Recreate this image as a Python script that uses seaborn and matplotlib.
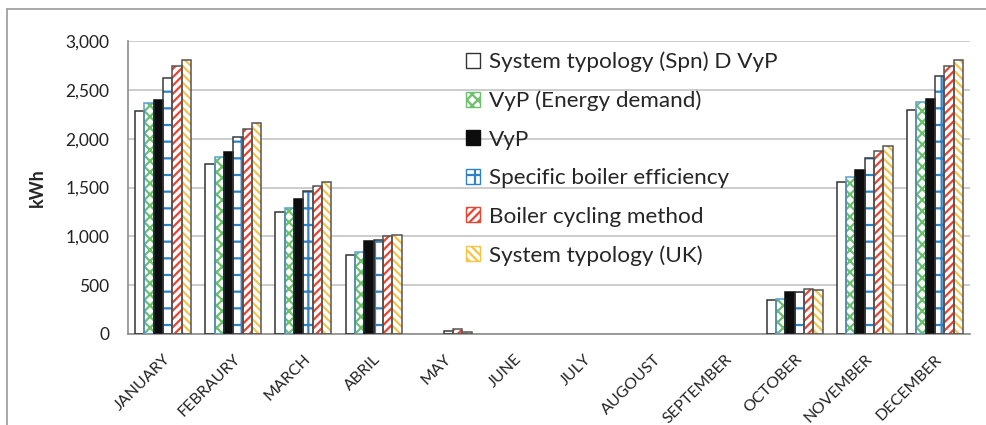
import pandas as pd
import matplotlib
matplotlib.use('Agg')
import matplotlib.pyplot as plt
import seaborn as sb
from matplotlib.patches import Patch, Rectangle
from matplotlib.lines import Line2D

# monthly energy use (kWh)
months = ['JANUARY', 'FEBRAURY', 'MARCH', 'ABRIL', 'MAY', 'JUNE', 'JULY',
          'AUGOUST', 'SEPTEMBER', 'OCTOBER', 'NOVEMBER', 'DECEMBER']
series = ['System typology (Spn) D VyP', 'VyP (Energy demand)', 'VyP',
          'Specific boiler efficiency', 'Boiler cycling method', 'System typology (UK)']
spn_vyp = [2280, 1745, 1250, 810, 0, 0, 0, 0, 0, 350, 1555, 2290]
vyp_demand = [2365, 1812, 1292, 838, 0, 0, 0, 0, 0, 358, 1608, 2372]
vyp = [2400, 1862, 1385, 950, 0, 0, 0, 0, 0, 433, 1683, 2405]
boiler_eff = [2622, 2022, 1462, 960, 30, 0, 0, 0, 0, 434, 1800, 2638]
cycling = [2742, 2102, 1520, 1002, 48, 0, 0, 0, 0, 458, 1876, 2742]
uk = [2802, 2160, 1558, 1015, 18, 0, 0, 0, 0, 451, 1920, 2806]

values = [spn_vyp, vyp_demand, vyp, boiler_eff, cycling, uk]
rows = []
for name, vals in zip(series, values):
    for m, v in zip(months, vals):
        rows.append({'Month': m, 'kWh': v, 'Series': name})
df = pd.DataFrame(rows)

# look of each series: face, hatch, hatch colour, outline
faces = ['white', 'white', '#0d0d0d', 'white', 'white', 'white']
hatches = ['', 'xxx', '', '+', '////', '\\\\\\\\']
hatch_cols = ['#333333', '#6cbf6c', '#0d0d0d', '#2f82c4', '#ea4330', '#f6c343']
edges = ['#333333', '#5aa0d0', '#0d0d0d', '#3a3a3a', '#555555', '#555555']

sb.set_style('white')
plt.rcParams['font.family'] = ['Lato', 'DejaVu Sans']
plt.rcParams['hatch.linewidth'] = 1.6

fig = plt.figure(figsize=(9.87, 4.25), dpi=100)
ax = fig.add_axes([128 / 987, 1 - 334 / 425, (970 - 128) / 987, (334 - 41) / 425])

sb.barplot(data=df, x='Month', y='kWh', hue='Series', hue_order=series,
           palette=['white'] * 6, legend=False, ax=ax, saturation=1)

for i, cont in enumerate(ax.containers):
    for bar in cont:
        bar.set_facecolor(faces[i])
        bar.set_hatch(hatches[i])
        bar.set_edgecolor(hatch_cols[i])
        bar.set_linewidth(0)
        h = bar.get_height()
        if h > 0:
            ax.add_patch(Rectangle((bar.get_x(), 0), bar.get_width(), h, fill=False,
                                   edgecolor=edges[i], linewidth=1.1, zorder=3))

ax.set_ylim(0, 3000)
ax.set_xlim(-0.5, 11.5)
ax.set_yticks(range(0, 3001, 500))
ax.set_yticklabels(['{:,}'.format(v) for v in range(0, 3001, 500)], fontsize=12.5)
ax.grid(axis='y', color='#c8c8c8', linewidth=1.3)
ax.set_axisbelow(True)
for s in ['top', 'right']:
    ax.spines[s].set_visible(False)
for s in ['left', 'bottom']:
    ax.spines[s].set_color('#8c8c8c')
    ax.spines[s].set_linewidth(1.2)

ax.tick_params(axis='y', length=4.5, color='#8c8c8c', width=1, pad=9, labelcolor='#222222')
ax.set_xticks(range(12))
ax.set_xticks([x - 0.5 for x in range(13)], minor=True)
ax.tick_params(axis='x', which='major', length=0, pad=13)
ax.tick_params(axis='x', which='minor', length=4.5, color='#8c8c8c', width=1)
ax.set_xticklabels(months, rotation=45, ha='right', rotation_mode='anchor',
                   fontsize=11.5, color='#222222')
ax.set_xlabel('')
ax.set_ylabel('kWh', fontsize=13, fontweight='bold', labelpad=14)

# legend
handles = []
for i in range(6):
    handles.append(Patch(facecolor=faces[i], hatch=hatches[i], edgecolor=hatch_cols[i],
                         linewidth=1))
ax.legend(handles, series, loc='upper left', bbox_to_anchor=(0.385, 1.01), frameon=False,
          fontsize=16.2, handlelength=0.65, handleheight=0.65, handletextpad=0.4,
          labelspacing=0.82, borderaxespad=0.2)

# outer chart border
fig.add_artist(Line2D([7 / 987, 7 / 987], [0, 1 - 9 / 425], color='#9a9a9a', linewidth=1.2))
fig.add_artist(Line2D([7 / 987, 1], [1 - 9 / 425, 1 - 9 / 425], color='#9a9a9a', linewidth=1.2))

fig.savefig('out.png', dpi=100)
